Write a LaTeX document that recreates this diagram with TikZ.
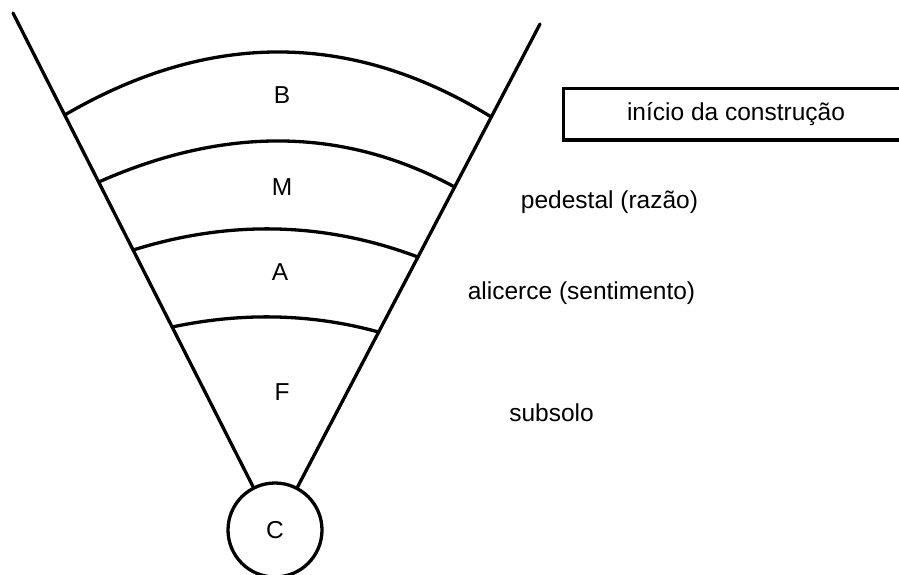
\documentclass[tikz,border=0pt]{standalone}
\usepackage{fontspec}
\setmainfont{Liberation Sans}
\begin{document}
\begin{tikzpicture}[x=1pt,y=-1pt,
  ln/.style={line width=3.3pt, line cap=round},
  lbl/.style={font=\fontsize{24.5}{28}\selectfont, inner sep=0pt},
  circ/.style={draw, circle, line width=3.3pt, minimum size=94pt, inner sep=0pt, font=\fontsize{24.5}{28}\selectfont}]
\useasboundingbox (0,0) rectangle (899,575);
% circle C
\node[circ] (C) at (275,530) {C};
% funnel sides
\coordinate (LT) at (13,13);
\coordinate (RT) at (540,24);
\draw[ln] (LT) -- (C);
\draw[ln] (RT) -- (C);
% arc ends
\coordinate (B1) at (64.7,115);  \coordinate (B2) at (491.3,117);
\coordinate (M1) at (98.7,182);  \coordinate (M2) at (454.6,187);
\coordinate (A1) at (133.2,250); \coordinate (A2) at (417.9,257);
\coordinate (F1) at (172.2,327); \coordinate (F2) at (378.6,332);
\draw[ln] (B1) .. controls (209.6,30.3) and (351.8,31) .. (B2);
\draw[ln] (M1) .. controls (225.8,125.7) and (344.4,127.3) .. (M2);
\draw[ln] (A1) .. controls (230.0,219.7) and (325.0,222) .. (A2);
\draw[ln] (F1) .. controls (243.1,312) and (311.9,313.7) .. (F2);
% band letters
\node[lbl] (lB) at (282,95) {B};
\node[lbl] (lM) at (282,187) {M};
\node[lbl] (lA) at (280,272) {A};
\node[lbl] (lF) at (282,392) {F};
% right texts
\node[draw, line width=3pt, anchor=west, minimum width=345pt, minimum height=51pt,
      font=\fontsize{24.5}{28}\selectfont] (box) at (562,114.5) {início da construção};
\node[lbl] (ped) at (609.5,202) {pedestal (razão)};
\node[lbl] (ali) at (581.5,293) {alicerce (sentimento)};
\node[lbl] (sub) at (551.5,413) {subsolo};
\end{tikzpicture}
\end{document}
